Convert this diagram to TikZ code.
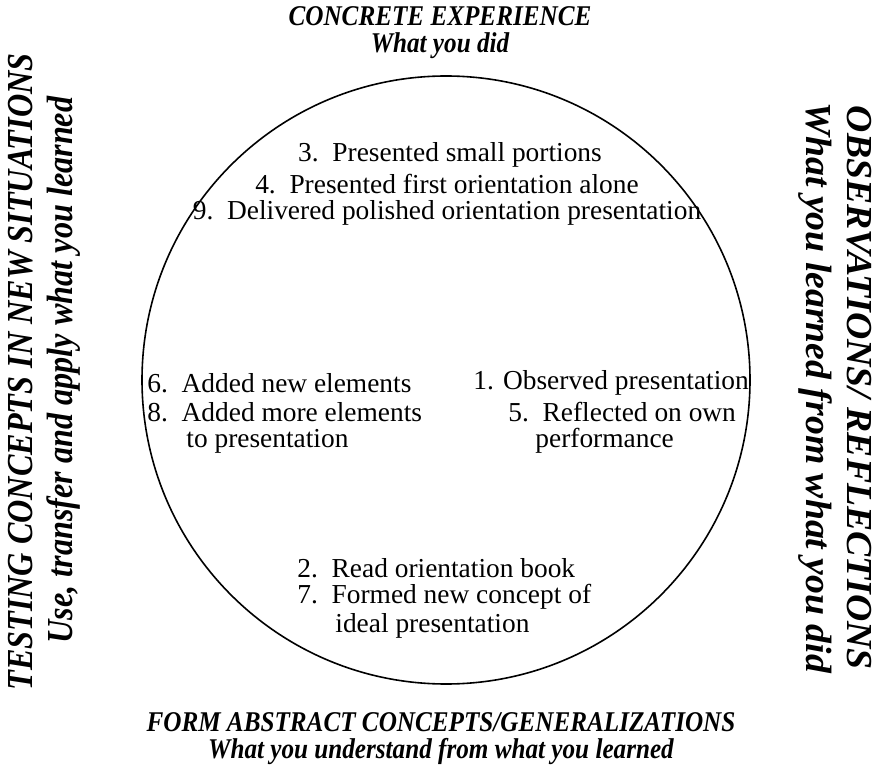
\documentclass[tikz,border=0pt]{standalone}
\usepackage{graphicx}
\usepackage{fontspec}
\setmainfont{Liberation Serif}
\newfontfamily\headfont[FakeStretch=0.88]{Liberation Serif}
\usetikzlibrary{positioning}
\tikzset{
  steptext/.style={font=\fontsize{13.7}{15}\selectfont, anchor=west, inner sep=0pt},
  headtext/.style={font=\headfont\fontsize{14.3}{16}\selectfont\bfseries\itshape, inner sep=0pt},
}

\begin{document}
\begin{tikzpicture}[x=0.5pt, y=-0.5pt]
  \useasboundingbox (0,0) rectangle (882,774);
  \node[draw, thick, circle, minimum size=304pt, inner sep=0pt] (cycle) at (446,380) {};
  % the four stages
  \node[headtext] (ce) at (440,16) {CONCRETE EXPERIENCE};
  \node[headtext] (cesub) at (440,46) {What you did};
  \node[headtext] (ac) at (441,722) {FORM ABSTRACT CONCEPTS/GENERALIZATIONS};
  \node[headtext] (acsub) at (441,752) {What you understand from what you learned};
  \node[headtext, rotate=90] (ae) at (21,372) {\scalebox{1.28}[1.28]{TESTING CONCEPTS IN NEW SITUATIONS}};
  \node[headtext, rotate=90] (aesub) at (64,370) {\scalebox{1.28}[1.28]{Use, transfer and apply what you learned}};
  \node[headtext, rotate=-90] (ro) at (859,388) {\scalebox{1.5}[1.28]{OBSERVATIONS/ REFLECTIONS}};
  \node[headtext, rotate=-90] (rosub) at (815,388) {\scalebox{1.5}[1.28]{What you learned from what you did}};
  % steps inside the circle
  \node[steptext, anchor=center] (s3) at (450,155) {3.\ \ Presented small portions};
  \node[steptext, anchor=center] (s4) at (447,184) {4.\ \ Presented first orientation alone};
  \node[steptext, anchor=center] (s9) at (447,213) {9.\ \ Delivered polished orientation presentation};
  \node[steptext] (s6) at (147,383) {6.\ \ Added new elements};
  \node[steptext] (s8) at (147,412) {8.\ \ Added more elements};
  \node[steptext] (s8b) at (186,441) {to presentation};
  \node[steptext] (s1) at (473,383) {1. Observed presentation};
  \node[steptext] (s5) at (508,412) {5.\ \ Reflected on own};
  \node[steptext] (s5b) at (535,441) {performance};
  \node[steptext] (s2) at (297,568) {2.\ \ Read orientation book};
  \node[steptext] (s7) at (297,597) {7.\ \ Formed new concept of};
  \node[steptext] (s7b) at (335,626) {ideal presentation};
\end{tikzpicture}
\end{document}
